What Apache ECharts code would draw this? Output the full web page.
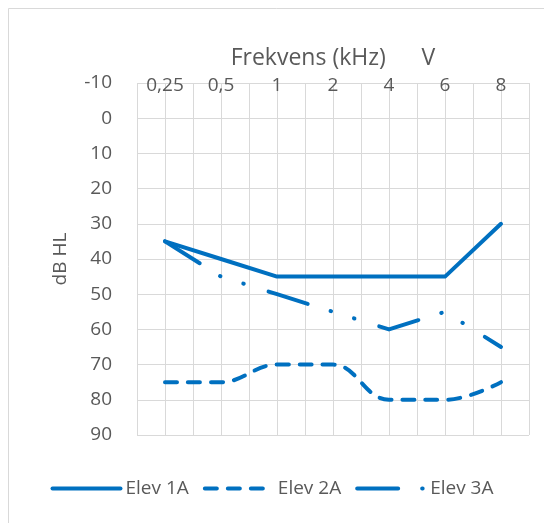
<!DOCTYPE html>
<html>
<head>
<meta charset="utf-8">
<script src="https://cdn.jsdelivr.net/npm/echarts@6/dist/echarts.min.js"></script>
<style>
html,body{margin:0;padding:0;background:#fff;}
#chart{width:544px;height:523px;}
</style>
</head>
<body>
<div id="chart"></div>
<script>
const categories = ['0,25', '0,5', '1', '2', '4', '6', '8'];
const elev1A = [35, 40, 45, 45, 45, 45, 30];
const elev2A = [75, 75, 70, 70, 80, 80, 75];
const elev3A = [35, 45, 50, 55, 60, 55, 65];
const seriesNames = ['Elev 1A', 'Elev 2A', 'Elev 3A'];
const halfCats = categories.flatMap(c => [c + 'a', c + 'b']);

const FONT = '"Open Sans", sans-serif';
const TXT = '#595959';
const GRID = '#d9d9d9';
const BLUE = '#0070C0';

const chart = echarts.init(document.getElementById('chart'), null, {renderer: 'canvas'});
chart.setOption({
  backgroundColor: '#fff',
  animation: false,
  textStyle: {fontFamily: FONT},
  graphic: [{
    type: 'rect', z: -10,
    shape: {x: 8.5, y: 8.5, width: 700, height: 700},
    style: {fill: '#fff', stroke: GRID, lineWidth: 1}
  }],
  grid: {left: 137, right: 15, top: 83, bottom: 88, containLabel: false},
  legend: {
    bottom: 20, left: 'center',
    itemWidth: 68, itemHeight: 12, itemGap: 14,
    itemStyle: {opacity: 0},
    lineStyle: {width: 4, cap: 'round'},
    textStyle: {color: TXT, fontSize: 19, fontFamily: FONT},
    data: seriesNames
  },
  xAxis: [{
    type: 'category', position: 'top', data: categories, boundaryGap: true,
    axisLine: {show: false}, axisTick: {show: false}, splitLine: {show: false},
    axisLabel: {color: TXT, fontSize: 19, fontFamily: FONT, margin: -3, verticalAlign: 'middle', interval: 0},
    name: 'Frekvens (kHz)      V', nameLocation: 'middle', nameGap: 13,
    nameTextStyle: {color: TXT, fontSize: 23, fontFamily: FONT}
  }, {
    type: 'category', position: 'top', data: halfCats, boundaryGap: true,
    axisLine: {show: false}, axisTick: {show: false, interval: 0}, axisLabel: {show: false, interval: 0},
    splitLine: {show: true, interval: 0, lineStyle: {color: GRID, width: 1}}
  }],
  yAxis: {
    type: 'value', inverse: true, min: -10, max: 90, interval: 10,
    axisLine: {show: false}, axisTick: {show: false},
    splitLine: {show: true, lineStyle: {color: GRID, width: 1}},
    axisLabel: {color: TXT, fontSize: 19, fontFamily: FONT, margin: 25},
    name: 'dB HL', nameLocation: 'middle', nameGap: 67,
    nameTextStyle: {color: TXT, fontSize: 19, fontFamily: FONT}
  },
  series: [{
    name: seriesNames[0], type: 'line', data: elev1A, showSymbol: false, symbol: 'none',
    lineStyle: {color: BLUE, width: 4, cap: 'round', join: 'round'},
    itemStyle: {color: BLUE}
  }, {
    name: seriesNames[1], type: 'line', data: elev2A, showSymbol: false, symbol: 'none', smooth: 0.4,
    lineStyle: {color: BLUE, width: 4, cap: 'round', join: 'round', type: [12, 11]},
    itemStyle: {color: BLUE}
  }, {
    name: seriesNames[2], type: 'line', data: elev3A, showSymbol: false, symbol: 'none',
    lineStyle: {color: BLUE, width: 4, cap: 'round', join: 'round', type: [41, 24, 0.5, 24, 0.5, 26]},
    itemStyle: {color: BLUE}
  }]
});
</script>
</body>
</html>
